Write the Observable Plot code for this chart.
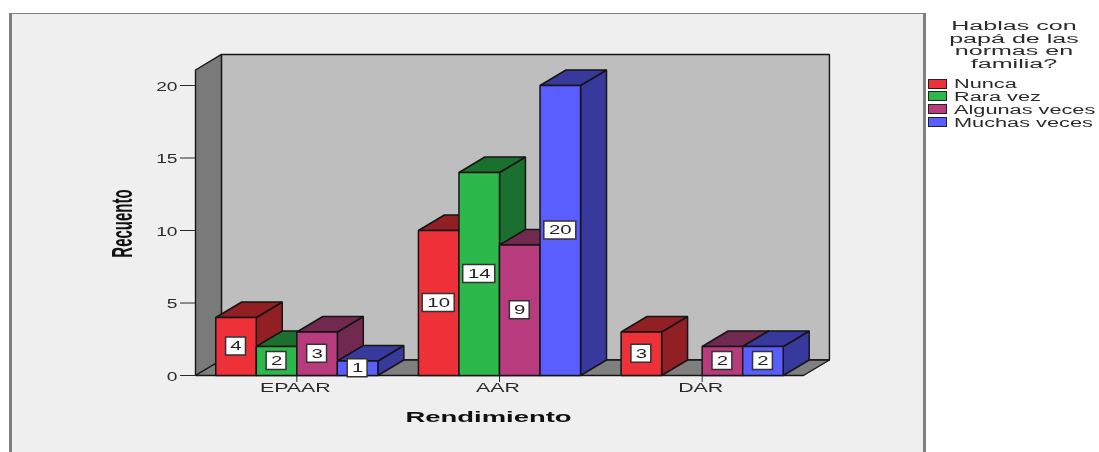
<!DOCTYPE html>
<html>
<head>
<meta charset="utf-8">
<script src="https://cdn.jsdelivr.net/npm/d3@7"></script>
<script src="https://cdn.jsdelivr.net/npm/@observablehq/plot@0.6"></script>
<style>
html,body{margin:0;padding:0;background:#fff;overflow:hidden;width:1099px;height:452px;font-family:"Liberation Sans",Arial,sans-serif;}
#panel{position:absolute;left:9px;top:13px;width:917px;height:445px;box-sizing:border-box;background:#efefef;border:solid #808080;border-width:1.5px 3px 0 3px;}
#chart{position:absolute;left:0;top:0;width:1099px;height:452px;filter:blur(0.4px);}
#legend{position:absolute;left:0;top:0;width:1099px;height:452px;color:#2a2a2a;font-size:12px;filter:blur(0.4px);}
.lt{position:absolute;left:927px;width:174px;text-align:center;line-height:13px;transform:scaleX(2.09);}
.li{position:absolute;left:953.5px;white-space:nowrap;line-height:13px;transform-origin:0 50%;transform:scaleX(1.81);}
.sw{position:absolute;left:928px;width:17px;height:8px;border:1.5px solid #222;}
</style>
</head>
<body>
<div id="panel"></div>
<div id="chart"></div>
<div id="legend"></div>
<script>
const categories = ["EPAAR", "AAR", "DAR"];
const seriesNames = ["Nunca", "Rara vez", "Algunas veces", "Muchas veces"];
const nunca = [4, 10, 3];
const raraVez = [2, 14, 0];
const algunasVeces = [3, 9, 2];
const muchasVeces = [1, 20, 2];
const frontColors = ["#ee3039", "#2db84b", "#b83b7e", "#5a5eff"];
const sideColors = ["#911f24", "#1b7030", "#722950", "#38399c"];
const legendTitle = ["Hablas con", "papá de las", "normas en", "familia?"];
const yTicks = [0, 5, 10, 15, 20];

const seriesValues = [nunca, raraVez, algunasVeces, muchasVeces];
const barW = 0.2, depthX = 0.128, depthY = 1.07, wallTop = 21.07;
const xMin = -0.5, xMax = 2.5;

const faces = [];
function addFace(id, color, pts) { pts.forEach(([x, y]) => faces.push({id, color, x, y})); }
const boxes = [];
categories.forEach((c, ci) => {
  seriesValues.forEach((vals, si) => {
    const v = vals[ci];
    if (!v) return;
    const x0 = ci + (si - 2) * barW, x1 = x0 + barW;
    addFace(`${c}-${si}-side`, sideColors[si], [[x1,0],[x1+depthX,depthY],[x1+depthX,v+depthY],[x1,v]]);
    addFace(`${c}-${si}-top`, sideColors[si], [[x0,v],[x1,v],[x1+depthX,v+depthY],[x0+depthX,v+depthY]]);
    addFace(`${c}-${si}-front`, frontColors[si], [[x0,0],[x1,0],[x1,v],[x0,v]]);
    boxes.push({cx: (x0 + x1) / 2, cy: v / 2, label: String(v)});
  });
});

const walls = [];
function addWall(id, color, pts) { pts.forEach(([x, y]) => walls.push({id, color, x, y})); }
addWall("back", "#bebebe", [[xMin+depthX,depthY],[xMax+depthX,depthY],[xMax+depthX,wallTop+depthY],[xMin+depthX,wallTop+depthY]]);
addWall("left", "#7a7a7a", [[xMin,0],[xMin+depthX,depthY],[xMin+depthX,wallTop+depthY],[xMin,wallTop]]);
addWall("floor", "#7f7f7f", [[xMin,0],[xMax,0],[xMax+depthX,depthY],[xMin+depthX,depthY]]);

const boxHalfH = 0.62, boxHalfSmall = 0.049, boxHalfWide = 0.079;
const polygon = (data, strokeWidth) => Plot.line(data, {
  x: "x", y: "y", z: "id",
  fill: {value: "color", scale: null},
  stroke: "#151515", strokeWidth, curve: "linear-closed", strokeLinejoin: "miter"
});

const plot = Plot.plot({
  width: 1099, height: 452,
  marginLeft: 195, marginRight: 296, marginTop: 85, marginBottom: 77,
  style: {background: "transparent", fontFamily: '"Liberation Sans", Arial, sans-serif', fontSize: "12px", color: "#2a2a2a"},
  x: {type: "linear", domain: [xMin, xMax]},
  y: {domain: [0, 20]},
  marks: [
    polygon(walls, 1.4),
    Plot.axisY({ticks: yTicks, tickSize: 15, tickPadding: 3, label: null, fontSize: 12, className: "wide-y"}),
    Plot.axisX({ticks: [0, 1, 2], tickFormat: i => categories[i], tickSize: 7, tickPadding: 1, label: null, fontSize: 12, className: "wide-x"}),
    polygon(faces, 1.5),
    Plot.rect(boxes, {
      x1: d => d.cx - (d.label.length > 1 ? boxHalfWide : boxHalfSmall),
      x2: d => d.cx + (d.label.length > 1 ? boxHalfWide : boxHalfSmall),
      y1: d => d.cy - boxHalfH, y2: d => d.cy + boxHalfH,
      fill: "white", stroke: "#333", strokeWidth: 1.5
    }),
    Plot.text(boxes, {x: "cx", y: "cy", text: "label", fontSize: 12, fill: "#222", className: "wide"}),
    Plot.text(["Rendimiento"], {frameAnchor: "bottom", dx: -11, dy: 42, lineAnchor: "middle", fontSize: 15, fontWeight: "bold", fill: "#111", className: "wide-b"}),
    Plot.text(["Recuento"], {frameAnchor: "left", textAnchor: "middle", dx: -73, dy: -7, rotate: -90, fontSize: 15, fontWeight: "bold", fill: "#111", className: "wide-r"})
  ]
});
document.getElementById("chart").appendChild(plot);

// The reference picture is stretched horizontally: widen the glyphs the same way.
const stretch = {"wide": [1.7, 0, 0], "wide-y": [1.6, 0, 1.5], "wide-x": [1.78, -1.5, 0], "wide-b": [1.83, 0, 0], "wide-r": [2.0, 0, 0]};
Object.entries(stretch).forEach(([cls, [k, tx, ty]]) => {
  plot.querySelectorAll(`.${cls} text`).forEach(t => {
    const tr = t.getAttribute("transform") || "";
    const extra = `translate(${tx},${ty}) scale(${k},1)`;
    t.setAttribute("transform", tr.includes("rotate(") ? tr.replace("rotate(", `${extra} rotate(`) : `${tr} ${extra}`);
  });
});

const legend = document.getElementById("legend");
legendTitle.forEach((line, i) => {
  const d = document.createElement("div");
  d.className = "lt"; d.textContent = line;
  d.style.top = (20 + i * 12.7) + "px";
  legend.appendChild(d);
});
seriesNames.forEach((name, i) => {
  const s = document.createElement("div");
  s.className = "sw"; s.style.background = frontColors[i];
  s.style.top = (78.5 + i * 12.9) + "px";
  legend.appendChild(s);
  const d = document.createElement("div");
  d.className = "li"; d.textContent = name;
  d.style.top = (78.2 + i * 13) + "px";
  legend.appendChild(d);
});
</script>
</body>
</html>
